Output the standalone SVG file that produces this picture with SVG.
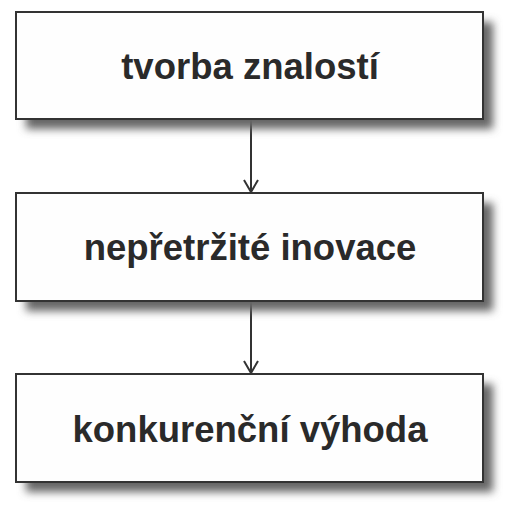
<svg xmlns="http://www.w3.org/2000/svg" width="512" height="508" viewBox="0 0 512 508">
<defs>
<filter id="sh" x="-10%" y="-20%" width="130%" height="160%">
<feGaussianBlur stdDeviation="4"/>
</filter>
<marker id="ah" viewBox="0 0 20 20" refX="18" refY="10" markerWidth="20" markerHeight="20" markerUnits="userSpaceOnUse" orient="auto">
<path d="M6,3 L18,10 L6,17" fill="none" stroke="#333" stroke-width="2"/>
</marker>
<style>
.box{fill:#fefefe;stroke:#333;stroke-width:2}
.shadow{fill:#666;filter:url(#sh)}
.lbl{font-family:"Liberation Sans",Arial,sans-serif;font-weight:bold;font-size:36.5px;fill:#2a2a2a;text-anchor:middle}
.conn{stroke:#333;stroke-width:2;fill:none}
</style>
</defs>
<rect width="512" height="508" fill="#ffffff"/>
<g id="connectors">
<line class="conn" x1="251" y1="120" x2="251" y2="192" marker-end="url(#ah)"/>
<line class="conn" x1="251" y1="302" x2="251" y2="373" marker-end="url(#ah)"/>
</g>
<g id="node1">
<rect class="shadow" x="26" y="22" width="467" height="107"/>
<rect class="box" x="16" y="12" width="467" height="107"/>
<text class="lbl" x="250" y="79">tvorba znalostí</text>
</g>
<g id="node2">
<rect class="shadow" x="26" y="203" width="467" height="108"/>
<rect class="box" x="16" y="193" width="467" height="108"/>
<text class="lbl" x="250" y="260">nepřetržité inovace</text>
</g>
<g id="node3">
<rect class="shadow" x="26" y="384" width="467" height="108"/>
<rect class="box" x="16" y="374" width="467" height="108"/>
<text class="lbl" x="250" y="442">konkurenční výhoda</text>
</g>
</svg>
